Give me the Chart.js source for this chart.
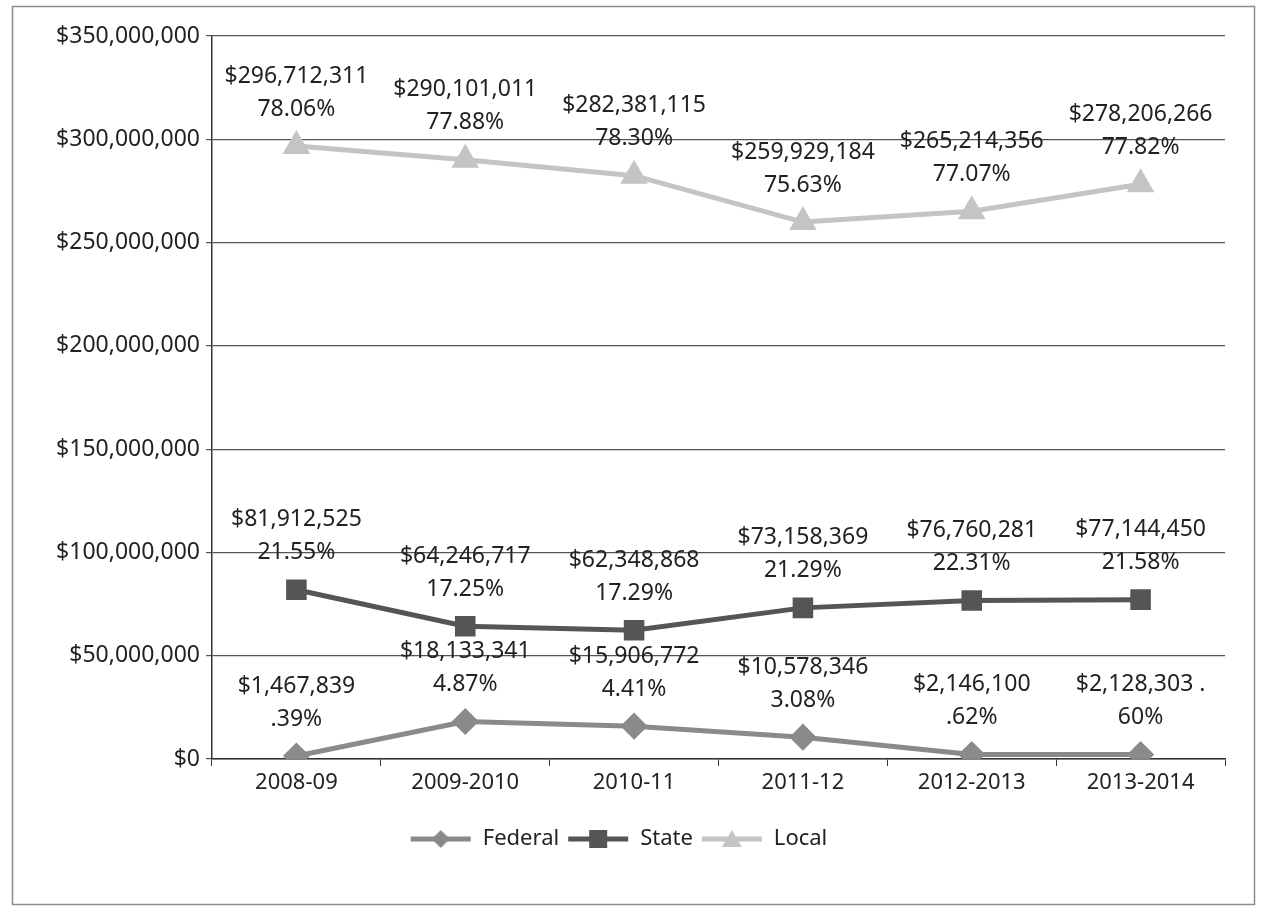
<!DOCTYPE html>
<html>
<head>
<meta charset="utf-8">
<script src="https://cdn.jsdelivr.net/npm/chart.js@4/dist/chart.umd.min.js"></script>
<style>
  html, body { margin: 0; padding: 0; background: #fff; }
  #wrap { width: 1261px; height: 913px; position: relative; }
</style>
</head>
<body>
<div id="wrap"><canvas id="myChart" width="1261" height="913"></canvas></div>
<script>
// donnees
const years = ["2008-09", "2009-2010", "2010-11", "2011-12", "2012-2013", "2013-2014"];
const federal = [1467839, 18133341, 15906772, 10578346, 2146100, 2128303];
const state = [81912525, 64246717, 62348868, 73158369, 76760281, 77144450];
const local = [296712311, 290101011, 282381115, 259929184, 265214356, 278206266];

const federalPct = [".39%", "4.87%", "4.41%", "3.08%", ".62%", "60%"];
const statePct = ["21.55%", "17.25%", "17.29%", "21.29%", "22.31%", "21.58%"];
const localPct = ["78.06%", "77.88%", "78.30%", "75.63%", "77.07%", "77.82%"];
// le dernier montant federal a un point en trop sur le scan
const federalSuffix = ["", "", "", "", "", " ."];

const yTicks = [0, 50000000, 100000000, 150000000, 200000000, 250000000, 300000000, 350000000];

const FONT = "'Noto Sans', sans-serif";

function money(v) {
  return "$" + v.toLocaleString("en-US");
}

// petit dessin ligne + marqueur pour la legende
function legendIcon(color, style) {
  const c = document.createElement("canvas");
  c.width = 64; c.height = 22;
  const g = c.getContext("2d");
  g.strokeStyle = color; g.fillStyle = color; g.lineWidth = 5;
  g.beginPath(); g.moveTo(2, 11); g.lineTo(62, 11); g.stroke();
  g.beginPath();
  if (style == "diamond") {
    g.moveTo(32, 2); g.lineTo(41, 11); g.lineTo(32, 20); g.lineTo(23, 11);
  } else if (style == "square") {
    g.rect(23, 2, 18, 18);
  } else {
    g.moveTo(32, 2); g.lineTo(42, 19); g.lineTo(22, 19);
  }
  g.closePath(); g.fill();
  return c;
}

const icons = [
  legendIcon("#8a8a8a", "diamond"),
  legendIcon("#555555", "square"),
  legendIcon("#c4c4c4", "triangle")
];

const pctLists = [federalPct, statePct, localPct];

// plugin pour les etiquettes de valeurs + cadre
const labelsPlugin = {
  id: "valueLabels",
  beforeDraw(chart) {
    const ctx = chart.ctx;
    ctx.save();
    ctx.fillStyle = "#fff";
    ctx.fillRect(0, 0, chart.width, chart.height);
    ctx.strokeStyle = "#8c8c8c";
    ctx.lineWidth = 1.5;
    ctx.strokeRect(12.5, 6.5, 1242, 898);
    ctx.restore();
  },
  afterDatasetsDraw(chart) {
    const ctx = chart.ctx;
    ctx.save();
    ctx.font = "23px " + FONT;
    ctx.fillStyle = "#222";
    ctx.textAlign = "center";
    ctx.textBaseline = "middle";
    chart.data.datasets.forEach(function (ds, d) {
      const meta = chart.getDatasetMeta(d);
      meta.data.forEach(function (pt, i) {
        let first = money(ds.data[i]);
        if (d == 0) first += federalSuffix[i];
        ctx.fillText(first, pt.x, pt.y - 70);
        ctx.fillText(pctLists[d][i], pt.x, pt.y - 37);
      });
    });
    ctx.restore();
  }
};

new Chart(document.getElementById("myChart"), {
  type: "line",
  data: {
    labels: years,
    datasets: [
      {
        label: "Federal",
        data: federal,
        borderColor: "#8a8a8a",
        backgroundColor: "#8a8a8a",
        borderWidth: 5,
        pointStyle: "rectRot",
        pointRadius: 10,
        pointHoverRadius: 10
      },
      {
        label: "State",
        data: state,
        borderColor: "#555555",
        backgroundColor: "#555555",
        borderWidth: 5,
        pointStyle: "rect",
        pointRadius: 11,
        pointHoverRadius: 11
      },
      {
        label: "Local",
        data: local,
        borderColor: "#c4c4c4",
        backgroundColor: "#c4c4c4",
        borderWidth: 5,
        pointStyle: "triangle",
        pointRadius: 11,
        pointHoverRadius: 11
      }
    ]
  },
  options: {
    responsive: false,
    animation: false,
    layout: { padding: { top: 36, right: 36, bottom: 53, left: 12 } },
    plugins: {
      legend: {
        position: "bottom",
        labels: {
          usePointStyle: true,
          pointStyleWidth: 62,
          padding: 8,
          color: "#222",
          font: { family: FONT, size: 22 },
          generateLabels(chart) {
            const items = Chart.defaults.plugins.legend.labels.generateLabels(chart);
            items.forEach(function (it, i) { it.pointStyle = icons[i]; });
            return items;
          }
        }
      },
      tooltip: { enabled: false }
    },
    scales: {
      x: {
        offset: true,
        afterFit(scale) { scale.height = 61; },
        grid: {
          display: true,
          offset: true,
          drawOnChartArea: false,
          drawTicks: true,
          tickLength: 7,
          color: "#333"
        },
        border: { display: true, color: "#333", width: 1.5 },
        ticks: {
          color: "#222",
          padding: 4,
          font: { family: FONT, size: 22 }
        }
      },
      y: {
        min: 0,
        max: 350000000,
        afterFit(scale) { scale.width = 200; },
        afterBuildTicks(scale) {
          scale.ticks = yTicks.map(function (v) { return { value: v }; });
        },
        grid: {
          color: "#555",
          lineWidth: 1.2,
          drawTicks: true,
          tickLength: 6
        },
        border: { display: true, color: "#333", width: 1.5 },
        ticks: {
          color: "#222",
          padding: 6,
          font: { family: FONT, size: 23 },
          callback(value) { return money(value); }
        }
      }
    }
  },
  plugins: [labelsPlugin]
});
</script>
</body>
</html>
